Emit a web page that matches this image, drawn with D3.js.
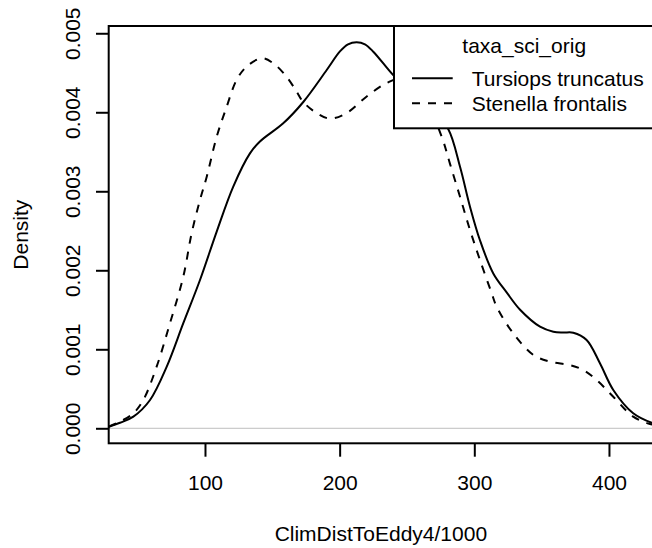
<!DOCTYPE html>
<html>
<head>
<meta charset="utf-8">
<script src="https://cdn.jsdelivr.net/npm/d3@7"></script>
<style>
  html, body { margin: 0; padding: 0; background: #fff; }
  svg { display: block; font-family: "Liberation Sans", Arial, Helvetica, sans-serif; }
</style>
</head>
<body>
<svg id="chart" width="652" height="548"></svg>
<script>
// ---- data ----
const xTicks = [100, 200, 300, 400];
const yTicks = [0, 0.001, 0.002, 0.003, 0.004, 0.005];
const yTickLabels = ["0.000", "0.001", "0.002", "0.003", "0.004", "0.005"];
const legendTitle = "taxa_sci_orig";
const seriesNames = ["Tursiops truncatus", "Stenella frontalis"];
const xLabel = "ClimDistToEddy4/1000";
const yLabel = "Density";

const tursiopsX = [28.5, 36.9, 46.8, 59.2, 71.6, 83.9, 96.3, 108.7, 121.0, 133.4, 140.8, 158.1, 173.0, 190.4, 200.2, 206.2, 212.6, 218.8, 225.0, 239.8, 248.5, 259.6, 270.8, 280.7, 289.4, 296.8, 304.2, 314.1, 324.0, 334.0, 348.8, 358.7, 366.0, 373.5, 383.4, 393.3, 403.2, 418.0, 431.7, 434];
const tursiopsY = [0.00002, 0.00007, 0.000147, 0.000358, 0.00078, 0.00133, 0.001877, 0.00249, 0.00306, 0.00348, 0.00363, 0.00386, 0.00413, 0.004535, 0.00477, 0.00486, 0.004886, 0.00486, 0.004767, 0.00447, 0.00433, 0.00418, 0.00398, 0.003785, 0.00331, 0.002805, 0.00238, 0.00196, 0.00172, 0.0015, 0.001286, 0.001223, 0.001212, 0.00121, 0.001118, 0.000823, 0.000485, 0.00019, 0.00007, 0.00006];

const stenellaX = [28.5, 36.9, 46.8, 54.2, 64.1, 74.0, 83.9, 90.1, 96.3, 101.3, 108.7, 116.1, 123.5, 130.9, 142.1, 150.7, 160.6, 168.1, 173.0, 182.9, 192.8, 205.2, 220.1, 234.9, 248.5, 263.4, 275.8, 281.9, 289.4, 296.8, 304.2, 312.9, 316.6, 329.0, 343.9, 356.2, 371.0, 380.9, 390.9, 403.2, 418.0, 430.4, 434];
const stenellaY = [0.00002, 0.000084, 0.00019, 0.000358, 0.00078, 0.00133, 0.00192, 0.00247, 0.00289, 0.003185, 0.00369, 0.00407, 0.00441, 0.004577, 0.004684, 0.00462, 0.00445, 0.00426, 0.00413, 0.00399, 0.00392, 0.00399, 0.0042, 0.00437, 0.00443, 0.00416, 0.00369, 0.00335, 0.00293, 0.00251, 0.00213, 0.00171, 0.00154, 0.0012, 0.000928, 0.000843, 0.0008, 0.000738, 0.00061, 0.0004, 0.000147, 0.000054, 0.00004];

// ---- layout ----
const svg = d3.select("#chart");
const L = 108.7, R = 653, T = 26, B = 443.3;
const FS = 21;

const x = d3.scaleLinear().domain([28.5, 432.7]).range([L, R]);
const y = d3.scaleLinear().domain([-0.00019, 0.005092]).range([B, T]);

svg.append("defs").append("clipPath").attr("id", "plotclip")
  .append("rect").attr("x", L).attr("y", T).attr("width", R - L).attr("height", B - T);

// zero reference line
svg.append("line")
  .attr("x1", L).attr("x2", R).attr("y1", y(0)).attr("y2", y(0))
  .attr("stroke", "#bebebe").attr("stroke-width", 1);

const line = d3.line().x(d => x(d[0])).y(d => y(d[1])).curve(d3.curveCatmullRom.alpha(0.5));

const g = svg.append("g").attr("clip-path", "url(#plotclip)");
g.append("path").datum(d3.zip(tursiopsX, tursiopsY))
  .attr("d", line).attr("fill", "none").attr("stroke", "#000").attr("stroke-width", 2);
g.append("path").datum(d3.zip(stenellaX, stenellaY))
  .attr("d", line).attr("fill", "none").attr("stroke", "#000").attr("stroke-width", 2)
  .attr("stroke-dasharray", "8,8");

// box
svg.append("rect").attr("x", L).attr("y", T).attr("width", R - L).attr("height", B - T)
  .attr("fill", "none").attr("stroke", "#000").attr("stroke-width", 2);

// x axis
const xAxis = d3.axisBottom(x).tickValues(xTicks).tickSize(13.4).tickPadding(20).tickFormat(d3.format("d"));
const xg = svg.append("g").attr("transform", `translate(0,${B})`).call(xAxis);
xg.select(".domain").remove();
xg.selectAll(".tick line").attr("stroke", "#000").attr("stroke-width", 2);
xg.selectAll(".tick text").attr("font-size", FS).attr("font-family", null).attr("fill", "#000")
  .attr("dy", null).attr("y", 490 - B);

// y axis
const yAxis = d3.axisLeft(y).tickValues(yTicks).tickSize(12.7).tickFormat((d, i) => yTickLabels[i]);
const yg = svg.append("g").attr("transform", `translate(${L},0)`).call(yAxis);
yg.select(".domain").remove();
yg.selectAll(".tick line").attr("stroke", "#000").attr("stroke-width", 2);
yg.selectAll(".tick text").attr("font-size", FS).attr("font-family", null).attr("fill", "#000")
  .attr("x", null).attr("dy", null).attr("text-anchor", "middle")
  .attr("transform", `translate(${80 - L},0) rotate(-90)`);

// axis titles
svg.append("text").attr("x", (L + R) / 2).attr("y", 541).attr("text-anchor", "middle")
  .attr("font-size", FS).text(xLabel);
svg.append("text").attr("transform", `translate(28,${(T + B) / 2}) rotate(-90)`)
  .attr("text-anchor", "middle").attr("font-size", FS).text(yLabel);

// legend
const lg = svg.append("g");
lg.append("rect").attr("x", 394).attr("y", T).attr("width", 261).attr("height", 102.3)
  .attr("fill", "#fff").attr("stroke", "#000").attr("stroke-width", 2);
lg.append("text").attr("x", 524.2).attr("y", 53.3).attr("text-anchor", "middle")
  .attr("font-size", FS).text(legendTitle);
const legY = [78.3, 103.3];
seriesNames.forEach((name, i) => {
  lg.append("line").attr("x1", 412).attr("x2", 452.7).attr("y1", legY[i]).attr("y2", legY[i])
    .attr("stroke", "#000").attr("stroke-width", 2)
    .attr("stroke-dasharray", i === 1 ? "8,8" : null);
  lg.append("text").attr("x", 471.7).attr("y", legY[i] + 7.6).attr("font-size", FS).text(name);
});
</script>
</body>
</html>
